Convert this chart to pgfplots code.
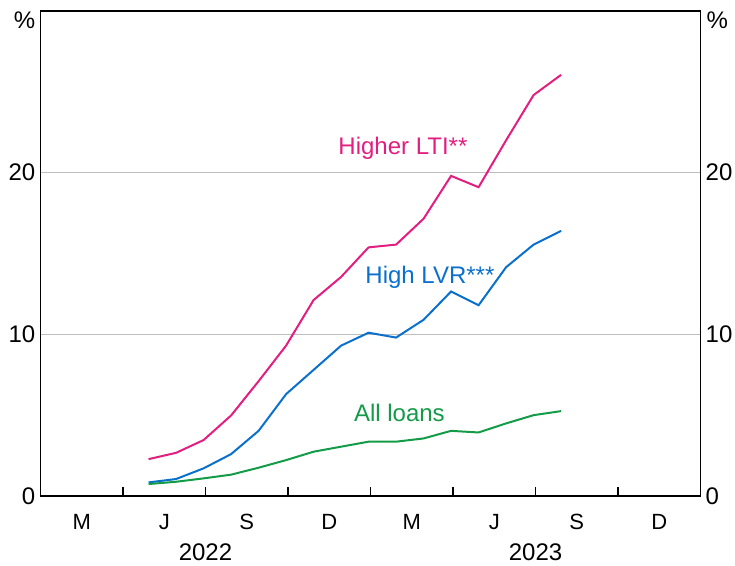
\documentclass[border=0pt]{standalone}
\usepackage{fontspec}
\setmainfont{Liberation Sans}
\usepackage{pgfplots}
\pgfplotsset{compat=1.18}
\definecolor{ltipink}{RGB}{226,30,128}
\definecolor{lvrblue}{RGB}{10,112,204}
\definecolor{allgreen}{RGB}{20,155,72}
\definecolor{gridgray}{RGB}{190,190,190}
\begin{document}
\begin{tikzpicture}
\begin{axis}[
  name=ax,
  scale only axis,
  width=660pt, height=485pt,
  xmin=0, xmax=24, ymin=0, ymax=30,
  axis line style={line width=1.3pt, black},
  /pgf/number format/assume math mode=true,
  xtick={3,6,9,12,15,18,21},
  xticklabels={},
  tick align=inside,
  xtick pos=bottom,
  major tick length=9pt,
  xtick style={line width=1.1pt, black},
  extra x ticks={1.5,4.5,7.5,10.5,13.5,16.5,19.5,22.5},
  extra x tick labels={M,J,S,D,M,J,S,D},
  extra x tick style={major tick length=0pt, grid=none,
     xticklabel style={anchor=base, yshift=-34pt, inner sep=0pt, font=\fontsize{22}{26}\selectfont}},
  ytick={0,10,20},
  ytick pos=left,
  ytick style={draw=none},
  yticklabel style={anchor=east, inner sep=0pt, xshift=-5pt, font=\fontsize{24}{28}\selectfont},
  ymajorgrids,
  major grid style={line width=1.1pt, gridgray},
  clip=false,
]
\addplot[ltipink, line width=2pt] coordinates {
(3.93,2.28) (4.93,2.67) (5.93,3.46) (6.93,4.98) (7.93,7.1) (8.93,9.3) (9.93,12.12) (10.93,13.55) (11.93,15.38) (12.93,15.55) (13.93,17.15) (14.93,19.8) (15.93,19.1) (16.93,22.0) (17.93,24.8) (18.93,26.05)};
\addplot[lvrblue, line width=2pt] coordinates {
(3.93,0.84) (4.93,1.05) (5.93,1.71) (6.93,2.59) (7.93,4.03) (8.93,6.3) (9.93,7.8) (10.93,9.3) (11.93,10.1) (12.93,9.8) (13.93,10.9) (14.93,12.65) (15.93,11.8) (16.93,14.15) (17.93,15.55) (18.93,16.4)};
\addplot[allgreen, line width=2pt] coordinates {
(3.93,0.74) (4.93,0.88) (5.93,1.09) (6.93,1.32) (7.93,1.75) (8.93,2.22) (9.93,2.74) (10.93,3.05) (11.93,3.36) (12.93,3.36) (13.93,3.56) (14.93,4.03) (15.93,3.93) (16.93,4.49) (17.93,5.0) (18.93,5.25)};
\node[anchor=base, text=ltipink, inner sep=0pt, font=\fontsize{24}{28}\selectfont] at (axis cs:13.18,21.15) {Higher LTI**};
\node[anchor=base, text=lvrblue, inner sep=0pt, font=\fontsize{24}{28}\selectfont] at (axis cs:14.16,13.17) {High LVR***};
\node[anchor=base, text=allgreen, inner sep=0pt, font=\fontsize{24}{28}\selectfont] at (axis cs:13.05,4.6) {All loans};
\node[anchor=base, inner sep=0pt, font=\fontsize{24}{28}\selectfont] at ([yshift=-64pt]axis cs:6,0) {2022};
\node[anchor=base, inner sep=0pt, font=\fontsize{24}{28}\selectfont] at ([yshift=-64pt]axis cs:18,0) {2023};
\node[anchor=north east, inner sep=0pt, xshift=-5pt, yshift=-1pt, font=\fontsize{24}{28}\selectfont] at (rel axis cs:0,1) {\%};
\node[anchor=north west, inner sep=0pt, xshift=6pt, yshift=-1pt, font=\fontsize{24}{28}\selectfont] at (rel axis cs:1,1) {\%};
\coordinate (bl) at (rel axis cs:0,0);
\coordinate (tr) at (rel axis cs:1,1);
\end{axis}
\begin{axis}[
  scale only axis,
  width=660pt, height=485pt,
  xmin=0, xmax=24, ymin=0, ymax=30,
  axis x line=none,
  axis y line*=right,
  axis line style={line width=1.3pt, black},
  /pgf/number format/assume math mode=true,
  ytick={0,10,20},
  ytick style={draw=none},
  yticklabel style={anchor=west, inner sep=0pt, xshift=5pt, font=\fontsize{24}{28}\selectfont},
]
\addplot[draw=none] coordinates {(0,0)};
\end{axis}
\pgfresetboundingbox
\path[use as bounding box] ([xshift=-40.5pt,yshift=-70pt]bl) rectangle ([xshift=34.5pt,yshift=11pt]tr);
\end{tikzpicture}
\end{document}
